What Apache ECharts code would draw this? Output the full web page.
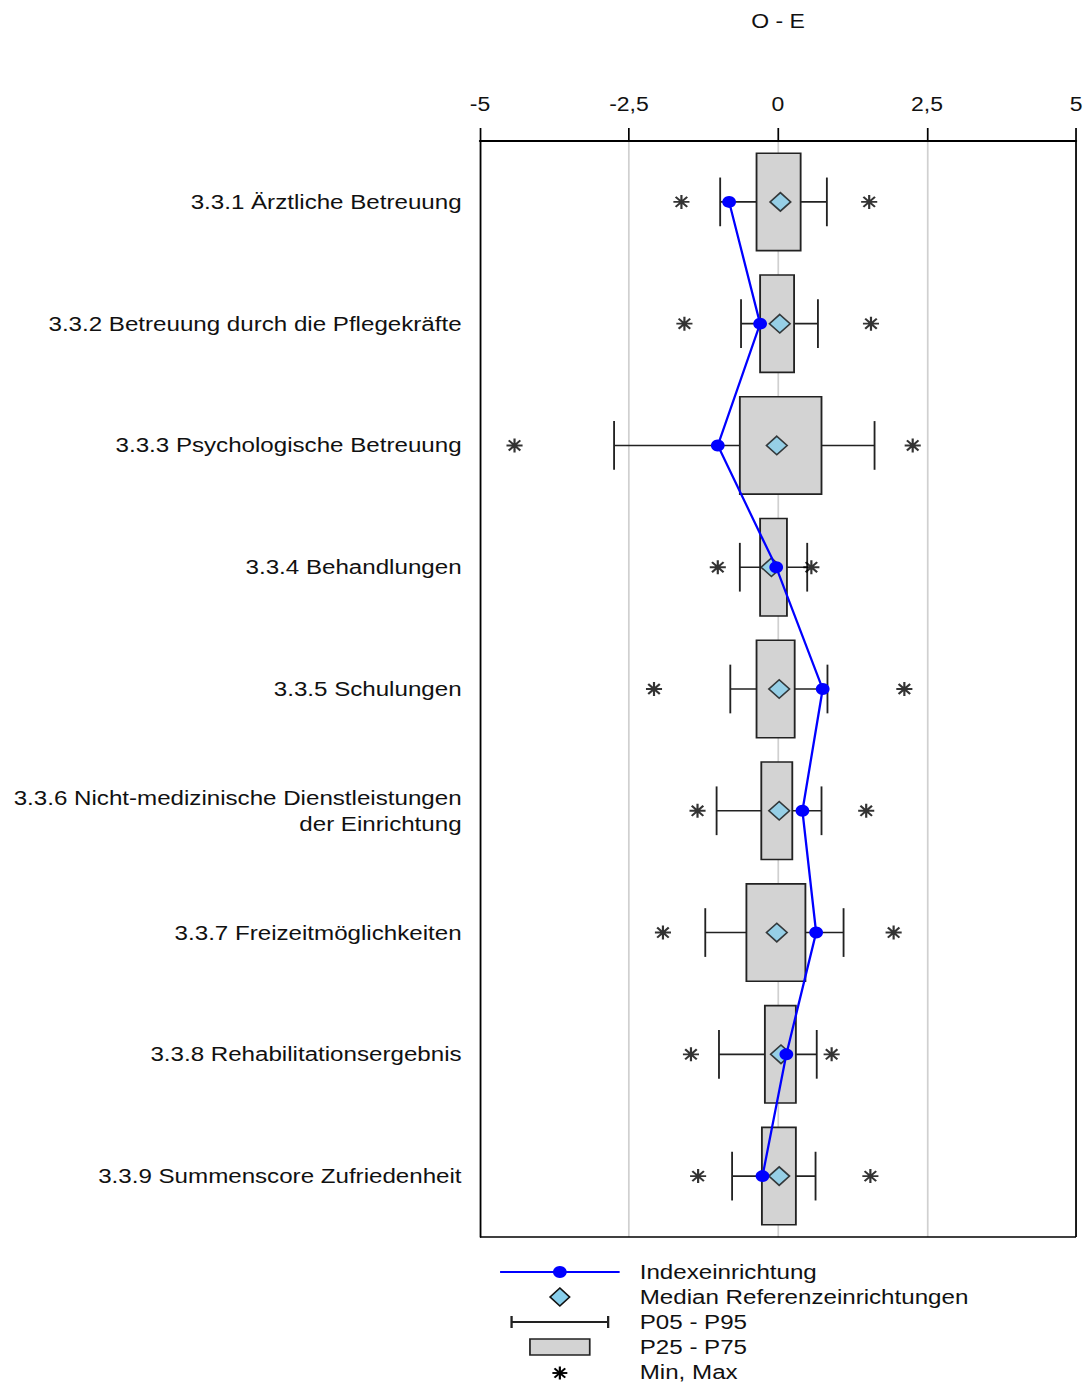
<!DOCTYPE html>
<html>
<head>
<meta charset="utf-8">
<script src="https://cdn.jsdelivr.net/npm/echarts@6/dist/echarts.min.js"></script>
<style>
html,body{margin:0;padding:0;background:#fff;overflow:hidden;}
#chart{width:949px;height:1384px;transform:scaleX(1.1496);transform-origin:0 0;}
</style>
</head>
<body>
<div id="chart"></div>
<script>
const categories = [
  '3.3.1 Ärztliche Betreuung',
  '3.3.2 Betreuung durch die Pflegekräfte',
  '3.3.3 Psychologische Betreuung',
  '3.3.4 Behandlungen',
  '3.3.5 Schulungen',
  '3.3.6 Nicht-medizinische Dienstleistungen\nder Einrichtung',
  '3.3.7 Freizeitmöglichkeiten',
  '3.3.8 Rehabilitationsergebnis',
  '3.3.9 Summenscore Zufriedenheit'
];
const minVals    = [-1.62, -1.57, -4.42, -1.01, -2.08, -1.35, -1.93, -1.46, -1.34];
const p05Vals    = [-0.97, -0.62, -2.75, -0.64, -0.80, -1.03, -1.22, -0.99, -0.77];
const p25Vals    = [-0.36, -0.30, -0.64, -0.30, -0.36, -0.28, -0.53, -0.22, -0.27];
const medianVals = [ 0.04,  0.03, -0.02, -0.11,  0.02,  0.02, -0.02,  0.05,  0.02];
const p75Vals    = [ 0.38,  0.27,  0.73,  0.15,  0.28,  0.24,  0.46,  0.30,  0.30];
const p95Vals    = [ 0.82,  0.67,  1.62,  0.49,  0.83,  0.73,  1.10,  0.65,  0.63];
const maxVals    = [ 1.53,  1.56,  2.26,  0.56,  2.12,  1.48,  1.94,  0.90,  1.55];
const indexVals  = [-0.82, -0.30, -1.01, -0.03,  0.75,  0.41,  0.64,  0.14, -0.26];
const xTicks = [-5, -2.5, 0, 2.5, 5];

const FONT = '"Liberation Sans", Arial, sans-serif';
const STAR = 'path://M0,-1L0,1M-1,0L1,0M-0.72,-0.72L0.72,0.72M-0.72,0.72L0.72,-0.72';

const chart = echarts.init(document.getElementById('chart'), null, {renderer: 'svg'});

const whiskerData = categories.map((c, i) => [i, p05Vals[i], p95Vals[i]]);
const boxData = categories.map((c, i) => [i, p25Vals[i], p75Vals[i]]);
const starData = [];
categories.forEach((c, i) => { starData.push([minVals[i], i]); starData.push([maxVals[i], i]); });

const legendY = [1272, 1297, 1322, 1347, 1372];
const legendText = ['Indexeinrichtung', 'Median Referenzeinrichtungen', 'P05 - P95', 'P25 - P75', 'Min, Max'];

function starLines(cx, cy, r) {
  const d = r * 0.72;
  const st = {stroke: '#000', lineWidth: 1.9};
  return [
    {type: 'line', shape: {x1: cx, y1: cy - r, x2: cx, y2: cy + r}, style: st},
    {type: 'line', shape: {x1: cx - r, y1: cy, x2: cx + r, y2: cy}, style: st},
    {type: 'line', shape: {x1: cx - d, y1: cy - d, x2: cx + d, y2: cy + d}, style: st},
    {type: 'line', shape: {x1: cx - d, y1: cy + d, x2: cx + d, y2: cy - d}, style: st}
  ];
}

const option = {
  backgroundColor: '#fff',
  animation: false,
  grid: {left: 417.5, right: 13, top: 141, bottom: 147, containLabel: false, outerBoundsMode: 'none'},
  xAxis: {
    type: 'value', position: 'top', min: -5, max: 5, interval: 2.5,
    name: 'O - E', nameLocation: 'middle', nameGap: 110,
    nameTextStyle: {fontFamily: FONT, fontSize: 20, color: '#111'},
    axisLine: {show: true, lineStyle: {color: '#000', width: 2}},
    axisTick: {show: true, length: 13, lineStyle: {color: '#000', width: 1.5}},
    axisLabel: {fontFamily: FONT, fontSize: 20, color: '#111', margin: 27,
      formatter: v => String(v).replace('.', ',')},
    splitLine: {show: true, lineStyle: {color: '#d0d0d0', width: 1.5}}
  },
  yAxis: {
    type: 'category', data: categories, inverse: true,
    axisLine: {show: true, onZero: false, lineStyle: {color: '#000', width: 1.5}},
    axisTick: {show: false},
    axisLabel: {fontFamily: FONT, fontSize: 21, color: '#111', margin: 16, align: 'right', lineHeight: 26},
    splitLine: {show: false}
  },
  series: [
    {
      type: 'custom', name: 'P05 - P95', data: whiskerData, z: 2,
      encode: {x: [1, 2], y: 0},
      renderItem: function (params, api) {
        const i = api.value(0);
        const a = api.coord([api.value(1), i]);
        const b = api.coord([api.value(2), i]);
        const h = api.size([0, 1])[1] * 0.2;
        const st = {stroke: '#222', lineWidth: 1.6};
        return {type: 'group', children: [
          {type: 'line', shape: {x1: a[0], y1: a[1], x2: b[0], y2: b[1]}, style: st},
          {type: 'line', shape: {x1: a[0], y1: a[1] - h, x2: a[0], y2: a[1] + h}, style: st},
          {type: 'line', shape: {x1: b[0], y1: b[1] - h, x2: b[0], y2: b[1] + h}, style: st}
        ]};
      }
    },
    {
      type: 'custom', name: 'P25 - P75', data: boxData, z: 3,
      encode: {x: [1, 2], y: 0},
      renderItem: function (params, api) {
        const i = api.value(0);
        const a = api.coord([api.value(1), i]);
        const b = api.coord([api.value(2), i]);
        const h = api.size([0, 1])[1] * 0.8;
        return {type: 'rect', shape: {x: a[0], y: a[1] - h / 2, width: b[0] - a[0], height: h},
          style: {fill: '#d3d3d3', stroke: '#222', lineWidth: 1.6}};
      }
    },
    {
      type: 'scatter', name: 'Min, Max', data: starData, z: 4,
      symbol: STAR, symbolSize: 14,
      itemStyle: {color: 'rgba(0,0,0,0)', borderColor: '#000', borderWidth: 1.9}
    },
    {
      type: 'scatter', name: 'Median Referenzeinrichtungen', z: 5,
      data: medianVals.map((v, i) => [v, i]),
      symbol: 'diamond', symbolSize: [18, 18.5],
      itemStyle: {color: '#87ceeb', borderColor: '#111', borderWidth: 1.5}
    },
    {
      type: 'line', name: 'Indexeinrichtung', z: 6,
      data: indexVals.map((v, i) => [v, i]),
      symbol: 'circle', symbolSize: 12, showSymbol: true,
      lineStyle: {color: '#0000ff', width: 2},
      itemStyle: {color: '#0000ff', borderWidth: 0}
    }
  ],
  graphic: [
    {type: 'line', shape: {x1: 936, y1: 141, x2: 936, y2: 1237}, style: {stroke: '#000', lineWidth: 1.5}, z: 10},
    {type: 'line', shape: {x1: 417.5, y1: 1237, x2: 936, y2: 1237}, style: {stroke: '#000', lineWidth: 1.5}, z: 10},
    {type: 'line', shape: {x1: 435, y1: legendY[0], x2: 539, y2: legendY[0]}, style: {stroke: '#0000ff', lineWidth: 2}},
    {type: 'circle', shape: {cx: 487, cy: legendY[0], r: 6}, style: {fill: '#0000ff'}},
    {type: 'polygon', shape: {points: [[487, legendY[1] - 9], [495.5, legendY[1]], [487, legendY[1] + 9], [478.5, legendY[1]]]},
      style: {fill: '#87ceeb', stroke: '#111', lineWidth: 1.5}},
    {type: 'line', shape: {x1: 445, y1: legendY[2], x2: 529, y2: legendY[2]}, style: {stroke: '#222', lineWidth: 2}},
    {type: 'line', shape: {x1: 445, y1: legendY[2] - 6, x2: 445, y2: legendY[2] + 6}, style: {stroke: '#222', lineWidth: 2}},
    {type: 'line', shape: {x1: 529, y1: legendY[2] - 6, x2: 529, y2: legendY[2] + 6}, style: {stroke: '#222', lineWidth: 2}},
    {type: 'rect', shape: {x: 461, y: legendY[3] - 8, width: 52, height: 16}, style: {fill: '#d3d3d3', stroke: '#222', lineWidth: 1.5}},
    ...starLines(487, legendY[4] + 1, 6.5),
    ...legendText.map((t, k) => ({
      type: 'text', x: 556.5, y: legendY[k],
      style: {text: t, font: '21px ' + FONT, fill: '#111', verticalAlign: 'middle'}
    }))
  ]
};
chart.setOption(option);
</script>
</body>
</html>
